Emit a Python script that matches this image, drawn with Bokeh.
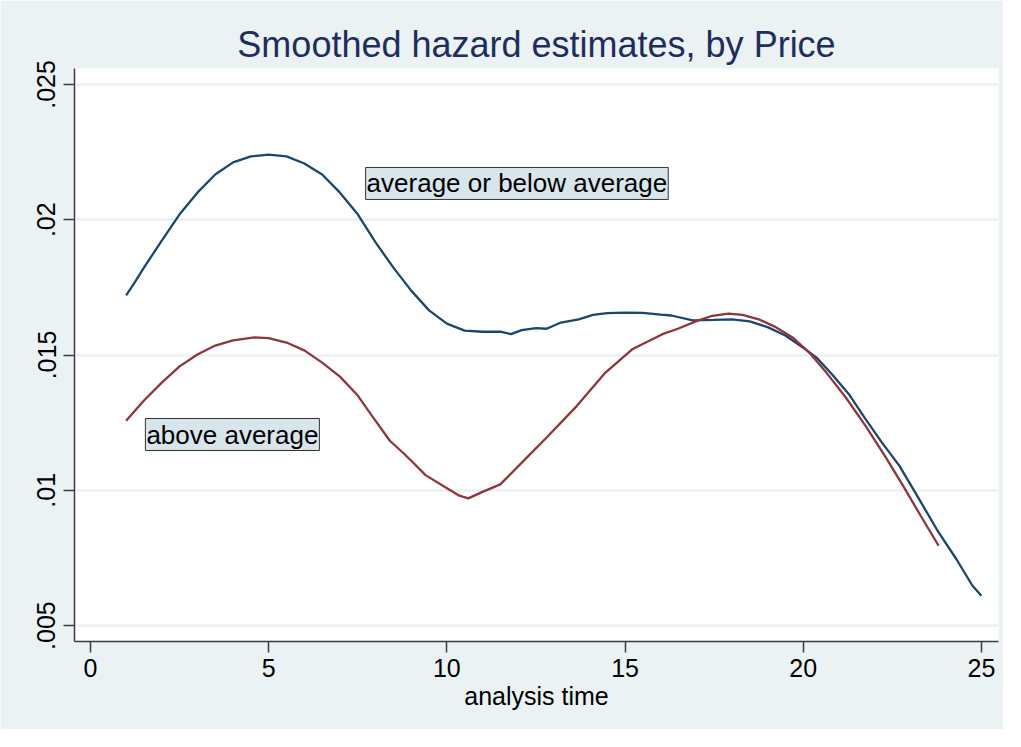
from bokeh.plotting import figure
from bokeh.models import Label, Range1d, FixedTicker
from bokeh.embed import file_html
from bokeh.resources import INLINE

# Smoothed hazard estimates
t_low = [1, 1.25, 1.5, 2, 2.5, 3, 3.5, 4, 4.5, 5, 5.5, 6, 6.5, 7, 7.5, 8, 8.5, 9, 9.5, 10,
         10.5, 11, 11.5, 11.8, 12.1, 12.5, 12.8, 13.2, 13.7, 14.1, 14.5, 15, 15.5, 16, 16.3,
         16.9, 17.5, 18, 18.5, 19, 19.5, 20, 20.4, 20.8, 21.3, 21.75, 22.2, 22.7, 23.2, 23.8,
         24.3, 24.75, 25]
h_low = [0.0172, 0.0177, 0.01823, 0.01923, 0.0202, 0.0210, 0.02167, 0.02212, 0.02234, 0.02241,
         0.02234, 0.02208, 0.02167, 0.0210, 0.0202, 0.01916, 0.01823, 0.01738, 0.01665, 0.01616,
         0.0159, 0.01586, 0.01586, 0.01577, 0.01592, 0.01599, 0.01597, 0.0162, 0.01632, 0.01648,
         0.01655, 0.01657, 0.01656, 0.01649, 0.01646, 0.01628, 0.0163, 0.01632, 0.01624, 0.01603,
         0.01572, 0.01527, 0.01487, 0.0143, 0.01352, 0.01263, 0.01178, 0.0109, 0.00979, 0.00844,
         0.00745, 0.00647, 0.0061]

t_high = [1, 1.5, 2, 2.5, 3, 3.5, 4, 4.6, 5, 5.5, 6, 6.5, 7, 7.5, 7.9, 8.4, 8.8, 9.1, 9.4,
          10.05, 10.35, 10.6, 11, 11.5, 12.2, 12.8, 13.65, 14.45, 15.2, 16.05, 16.5, 17, 17.45,
          17.9, 18.3, 18.75, 19.2, 19.7, 20.2, 20.65, 21.2, 21.75, 22.3, 22.8, 23.3, 23.8]
h_high = [0.01257, 0.01332, 0.01398, 0.01458, 0.01502, 0.01535, 0.01554, 0.01565, 0.01562, 0.01546,
          0.01517, 0.01472, 0.0142, 0.0135, 0.01275, 0.01183, 0.01135, 0.01096, 0.01056, 0.01004,
          0.0098, 0.0097, 0.00994, 0.01022, 0.01115, 0.01195, 0.01312, 0.01435, 0.01521, 0.01577,
          0.01598, 0.01625, 0.01645, 0.01653, 0.01648, 0.01632, 0.01605, 0.01565, 0.01505, 0.01435,
          0.01342, 0.01238, 0.01125, 0.01017, 0.00905, 0.00795]

x_ticks = [0, 5, 10, 15, 20, 25]
y_ticks = [0.005, 0.01, 0.015, 0.02, 0.025]
y_tick_labels = [".005", ".01", ".015", ".02", ".025"]

title_text = "Smoothed hazard estimates, by Price"
x_label = "analysis time"
label_low = "average or below average"
label_high = "above average"

FONT = "Liberation Sans"
BG = "#EAF2F3"
NAVY = "#1A476F"
MAROON = "#90353B"

p = figure(width=1003, height=729, output_backend="svg", toolbar_location=None,
           x_range=Range1d(-0.449, 25.48), y_range=Range1d(0.00441, 0.02559),
           min_border_left=74, min_border_right=5, min_border_top=68, min_border_bottom=88)

p.background_fill_color = "white"
p.border_fill_color = BG
p.outline_line_color = None

p.title.text = title_text
p.title.align = "center"
p.title.text_font = FONT
p.title.text_font_size = "36px"
p.title.text_font_style = "normal"
p.title.text_color = "#1E2D5C"
p.title.standoff = 8

p.xgrid.visible = False
p.ygrid.grid_line_color = BG
p.ygrid.grid_line_width = 2.5

for ax in (p.xaxis, p.yaxis):
    ax.axis_line_color = "#3C3C3C"
    ax.axis_line_width = 1.5
    ax.major_tick_line_color = "#3C3C3C"
    ax.major_tick_line_width = 1.5
    ax.major_tick_in = 0
    ax.major_tick_out = 11
    ax.minor_tick_line_color = None
    ax.major_label_text_font = FONT
    ax.major_label_text_font_size = "25px"
    ax.major_label_text_color = "black"

p.xaxis.ticker = FixedTicker(ticks=x_ticks)
p.yaxis.ticker = FixedTicker(ticks=y_ticks)
p.yaxis.major_label_overrides = {v: s for v, s in zip(y_ticks, y_tick_labels)}
p.yaxis.major_label_orientation = "vertical"
p.yaxis.major_label_standoff = 8
p.xaxis.major_label_standoff = 6

p.xaxis.axis_label = x_label
p.xaxis.axis_label_text_font = FONT
p.xaxis.axis_label_text_font_size = "25px"
p.xaxis.axis_label_text_font_style = "normal"
p.xaxis.axis_label_text_color = "black"
p.xaxis.axis_label_standoff = 2

p.line(t_low, h_low, line_color=NAVY, line_width=2.3)
p.line(t_high, h_high, line_color=MAROON, line_width=2.3)

for txt, x, y in ((label_low, 7.72, 0.02075), (label_high, 1.54, 0.01147)):
    p.add_layout(Label(x=x, y=y, text=txt, text_font=FONT, text_font_size="26px",
                       text_color="black", text_baseline="bottom", text_align="left",
                       background_fill_color="#D8E5EA", border_line_color="#333333",
                       border_line_width=1, padding=1))

open("out.html", "w").write(file_html(p, INLINE))
